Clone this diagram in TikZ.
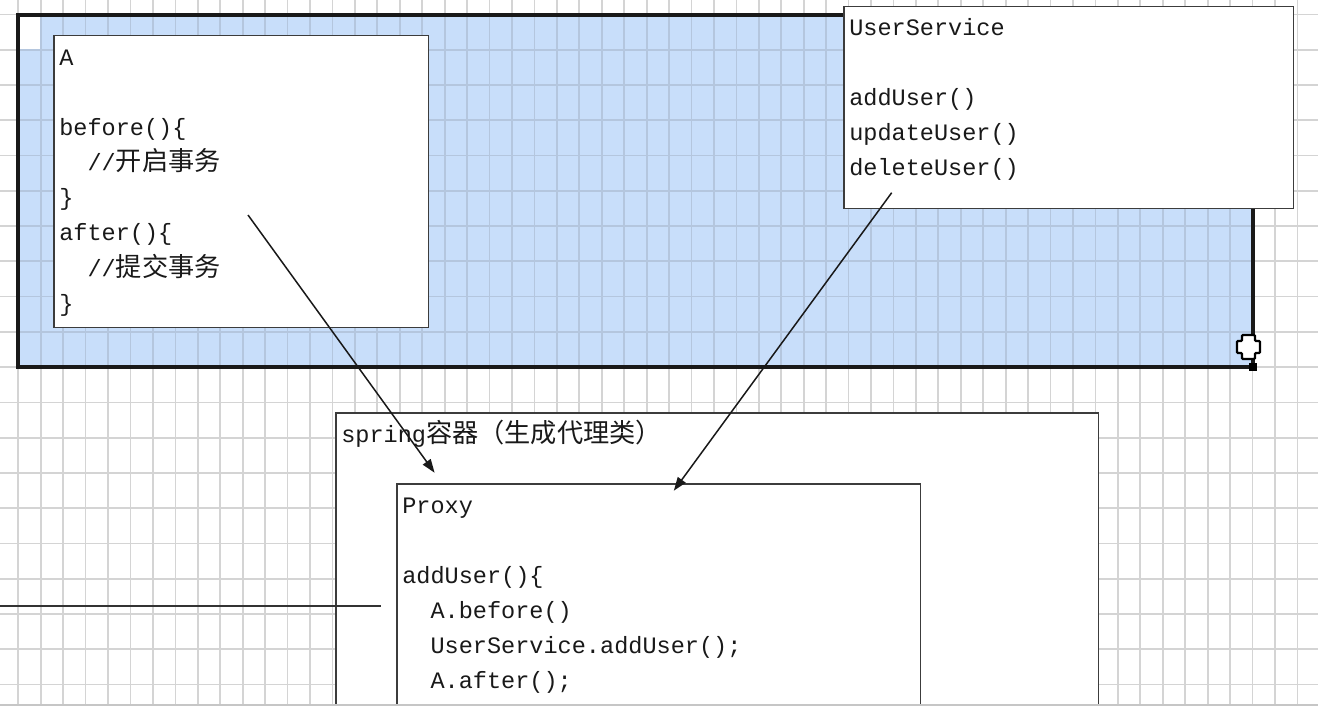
\documentclass[tikz,border=0pt]{standalone}
\usepackage{fontspec}
\usepackage{tikz}
\usetikzlibrary{positioning,arrows.meta}
\usepackage{xcolor}

\newfontfamily\codefont{Liberation Mono}
\newfontfamily\cjk[Scale=1.112]{Noto Sans CJK SC}
\newcommand\zh[1]{{\cjk #1}}
\newcommand\indt{\phantom{xx}}
% grid of the editor canvas
\newcommand\gridlines[1]{%
  \foreach \i in {0,...,57} \draw[#1] ({18.3+22.44*\i},0) -- ++(0,706);
  \foreach \j in {0,...,19} \draw[#1] (0,{14.46+35.27*\j}) -- ++(1318,0);}

\definecolor{selblue}{RGB}{200,222,250}
\definecolor{gridgray}{RGB}{212,212,212}
\definecolor{gridblue}{RGB}{180,198,222}
\definecolor{boxline}{RGB}{60,60,60}
\definecolor{selline}{RGB}{25,25,25}

\tikzset{
  box/.style={draw=boxline,fill=white,line width=0.03cm,anchor=north west,inner sep=0pt},
  code/.style={font=\codefont\fontsize{13.4pt}{20pt}\selectfont,align=left,anchor=north west,inner sep=0pt,text=black!90},
  link/.style={-{Triangle[length=0.27cm,width=0.19cm]},line width=0.03cm,black!90},
  gridline/.style={line width=0.035cm,#1}
}

\begin{document}
\begin{tikzpicture}[x=0.02cm,y=-0.02cm]
\useasboundingbox (0,0) rectangle (1318,706);
\clip (0,0) rectangle (1318,706);
\fill[white] (0,0) rectangle (1318,706);

% selected area
\fill[selblue] (18,15) rectangle (1253,367);
\fill[white] (20,17) rectangle (40.7,49.7);
\gridlines{gridline=gridgray}
\begin{scope}
\clip (20,17) rectangle (1251,365);
\gridlines{gridline=gridblue}
\end{scope}
\draw[selline,line width=0.08cm] (18,15.3) rectangle (1253,367);

% boxes
\node[box,minimum width=7.5cm,minimum height=5.84cm] (A) at (53,35) {};
\node[box,minimum width=9cm,minimum height=4.04cm] (US) at (843,6) {};
\node[box,minimum width=15.26cm,minimum height=7cm] (spring) at (335,412) {};
\node[box,minimum width=10.48cm,minimum height=6cm] (proxy) at (396,483) {};

\node[code] (Atxt) at (59,40.3) {\strut A\\\strut\\before()\{\\\indt//\zh{开启事务}\\\}\\after()\{\\\indt//\zh{提交事务}\\\}};
\node[code] (UStxt) at (849,10.3) {\strut UserService\\\strut\\addUser()\\updateUser()\\deleteUser()};
\node[code] (springtxt) at (341,417.3) {\strut spring\zh{容器（生成代理类）}};
\node[code] (proxytxt) at (402,488.3) {\strut Proxy\\\strut\\addUser()\{\\\indt A.before()\\\indt UserService.addUser();\\\indt A.after();\\\}};

% connectors
\coordinate (aFrom) at (248,215);
\coordinate (aTo) at (434.6,472.7);
\coordinate (usFrom) at (891.7,192.7);
\coordinate (usTo) at (673.8,490.7);
\draw[link] (aFrom) -- (aTo);
\draw[link] (usFrom) -- (usTo);

\coordinate (cutL) at (0,606);
\coordinate (cutR) at (381,606);
\draw[black!80,line width=0.03cm] (cutL) -- (cutR);

% move cursor and resize handle
\draw[black,fill=white,line width=0.045cm,rounded corners=0.02cm]
  (1242,335) -- (1255,335) -- (1255,341) -- (1260,341) -- (1260,353) -- (1255,353)
  -- (1255,359) -- (1242,359) -- (1242,353) -- (1237,353) -- (1237,341) -- (1242,341) -- cycle;
\fill[black] (1249,363) rectangle (1257,371);

\draw[gray!45,line width=0.04cm] (0,705) -- (1318,705);
\end{tikzpicture}
\end{document}
